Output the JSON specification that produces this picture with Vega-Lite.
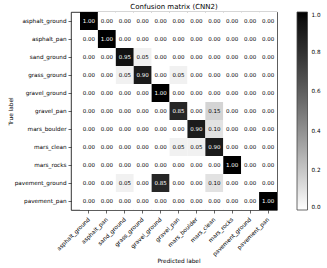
{
  "$schema": "https://vega.github.io/schema/vega-lite/v6.json",
  "autosize": {"type": "none"},
  "padding": {"left": 71, "top": 12, "right": 50, "bottom": 58},
  "width": 206,
  "height": 198,
  "background": "white",
  "config": {
    "font": "DejaVu Sans",
    "view": {"stroke": "#000", "strokeWidth": 0.8},
    "axis": {"domain": false, "grid": false, "tickColor": "#000", "tickWidth": 0.6, "tickSize": 3, "labelFontSize": 5.7, "labelColor": "#000", "labelPadding": 2, "titleFontSize": 5.8, "titleFontWeight": "normal", "titleColor": "#000"}
  },
  "title": {"text": "Confusion matrix (CNN2)", "fontSize": 7, "fontWeight": "normal", "color": "#000", "offset": 2},
  "data": {"values": [
    {"t":"asphalt_ground","p":"asphalt_ground","v":1.00},{"t":"asphalt_ground","p":"asphalt_pan","v":0},{"t":"asphalt_ground","p":"sand_ground","v":0},{"t":"asphalt_ground","p":"grass_ground","v":0},{"t":"asphalt_ground","p":"gravel_ground","v":0},{"t":"asphalt_ground","p":"gravel_pan","v":0},{"t":"asphalt_ground","p":"mars_boulder","v":0},{"t":"asphalt_ground","p":"mars_clean","v":0},{"t":"asphalt_ground","p":"mars_rocks","v":0},{"t":"asphalt_ground","p":"pavement_ground","v":0},{"t":"asphalt_ground","p":"pavement_pan","v":0},
    {"t":"asphalt_pan","p":"asphalt_ground","v":0},{"t":"asphalt_pan","p":"asphalt_pan","v":1.00},{"t":"asphalt_pan","p":"sand_ground","v":0},{"t":"asphalt_pan","p":"grass_ground","v":0},{"t":"asphalt_pan","p":"gravel_ground","v":0},{"t":"asphalt_pan","p":"gravel_pan","v":0},{"t":"asphalt_pan","p":"mars_boulder","v":0},{"t":"asphalt_pan","p":"mars_clean","v":0},{"t":"asphalt_pan","p":"mars_rocks","v":0},{"t":"asphalt_pan","p":"pavement_ground","v":0},{"t":"asphalt_pan","p":"pavement_pan","v":0},
    {"t":"sand_ground","p":"asphalt_ground","v":0},{"t":"sand_ground","p":"asphalt_pan","v":0},{"t":"sand_ground","p":"sand_ground","v":0.95},{"t":"sand_ground","p":"grass_ground","v":0.05},{"t":"sand_ground","p":"gravel_ground","v":0},{"t":"sand_ground","p":"gravel_pan","v":0},{"t":"sand_ground","p":"mars_boulder","v":0},{"t":"sand_ground","p":"mars_clean","v":0},{"t":"sand_ground","p":"mars_rocks","v":0},{"t":"sand_ground","p":"pavement_ground","v":0},{"t":"sand_ground","p":"pavement_pan","v":0},
    {"t":"grass_ground","p":"asphalt_ground","v":0},{"t":"grass_ground","p":"asphalt_pan","v":0},{"t":"grass_ground","p":"sand_ground","v":0.05},{"t":"grass_ground","p":"grass_ground","v":0.90},{"t":"grass_ground","p":"gravel_ground","v":0},{"t":"grass_ground","p":"gravel_pan","v":0.05},{"t":"grass_ground","p":"mars_boulder","v":0},{"t":"grass_ground","p":"mars_clean","v":0},{"t":"grass_ground","p":"mars_rocks","v":0},{"t":"grass_ground","p":"pavement_ground","v":0},{"t":"grass_ground","p":"pavement_pan","v":0},
    {"t":"gravel_ground","p":"asphalt_ground","v":0},{"t":"gravel_ground","p":"asphalt_pan","v":0},{"t":"gravel_ground","p":"sand_ground","v":0},{"t":"gravel_ground","p":"grass_ground","v":0},{"t":"gravel_ground","p":"gravel_ground","v":1.00},{"t":"gravel_ground","p":"gravel_pan","v":0},{"t":"gravel_ground","p":"mars_boulder","v":0},{"t":"gravel_ground","p":"mars_clean","v":0},{"t":"gravel_ground","p":"mars_rocks","v":0},{"t":"gravel_ground","p":"pavement_ground","v":0},{"t":"gravel_ground","p":"pavement_pan","v":0},
    {"t":"gravel_pan","p":"asphalt_ground","v":0},{"t":"gravel_pan","p":"asphalt_pan","v":0},{"t":"gravel_pan","p":"sand_ground","v":0},{"t":"gravel_pan","p":"grass_ground","v":0},{"t":"gravel_pan","p":"gravel_ground","v":0},{"t":"gravel_pan","p":"gravel_pan","v":0.85},{"t":"gravel_pan","p":"mars_boulder","v":0},{"t":"gravel_pan","p":"mars_clean","v":0.15},{"t":"gravel_pan","p":"mars_rocks","v":0},{"t":"gravel_pan","p":"pavement_ground","v":0},{"t":"gravel_pan","p":"pavement_pan","v":0},
    {"t":"mars_boulder","p":"asphalt_ground","v":0},{"t":"mars_boulder","p":"asphalt_pan","v":0},{"t":"mars_boulder","p":"sand_ground","v":0},{"t":"mars_boulder","p":"grass_ground","v":0},{"t":"mars_boulder","p":"gravel_ground","v":0},{"t":"mars_boulder","p":"gravel_pan","v":0},{"t":"mars_boulder","p":"mars_boulder","v":0.90},{"t":"mars_boulder","p":"mars_clean","v":0.10},{"t":"mars_boulder","p":"mars_rocks","v":0},{"t":"mars_boulder","p":"pavement_ground","v":0},{"t":"mars_boulder","p":"pavement_pan","v":0},
    {"t":"mars_clean","p":"asphalt_ground","v":0},{"t":"mars_clean","p":"asphalt_pan","v":0},{"t":"mars_clean","p":"sand_ground","v":0},{"t":"mars_clean","p":"grass_ground","v":0},{"t":"mars_clean","p":"gravel_ground","v":0},{"t":"mars_clean","p":"gravel_pan","v":0.05},{"t":"mars_clean","p":"mars_boulder","v":0.05},{"t":"mars_clean","p":"mars_clean","v":0.90},{"t":"mars_clean","p":"mars_rocks","v":0},{"t":"mars_clean","p":"pavement_ground","v":0},{"t":"mars_clean","p":"pavement_pan","v":0},
    {"t":"mars_rocks","p":"asphalt_ground","v":0},{"t":"mars_rocks","p":"asphalt_pan","v":0},{"t":"mars_rocks","p":"sand_ground","v":0},{"t":"mars_rocks","p":"grass_ground","v":0},{"t":"mars_rocks","p":"gravel_ground","v":0},{"t":"mars_rocks","p":"gravel_pan","v":0},{"t":"mars_rocks","p":"mars_boulder","v":0},{"t":"mars_rocks","p":"mars_clean","v":0},{"t":"mars_rocks","p":"mars_rocks","v":1.00},{"t":"mars_rocks","p":"pavement_ground","v":0},{"t":"mars_rocks","p":"pavement_pan","v":0},
    {"t":"pavement_ground","p":"asphalt_ground","v":0},{"t":"pavement_ground","p":"asphalt_pan","v":0},{"t":"pavement_ground","p":"sand_ground","v":0.05},{"t":"pavement_ground","p":"grass_ground","v":0},{"t":"pavement_ground","p":"gravel_ground","v":0.85},{"t":"pavement_ground","p":"gravel_pan","v":0},{"t":"pavement_ground","p":"mars_boulder","v":0},{"t":"pavement_ground","p":"mars_clean","v":0.10},{"t":"pavement_ground","p":"mars_rocks","v":0},{"t":"pavement_ground","p":"pavement_ground","v":0},{"t":"pavement_ground","p":"pavement_pan","v":0},
    {"t":"pavement_pan","p":"asphalt_ground","v":0},{"t":"pavement_pan","p":"asphalt_pan","v":0},{"t":"pavement_pan","p":"sand_ground","v":0},{"t":"pavement_pan","p":"grass_ground","v":0},{"t":"pavement_pan","p":"gravel_ground","v":0},{"t":"pavement_pan","p":"gravel_pan","v":0},{"t":"pavement_pan","p":"mars_boulder","v":0},{"t":"pavement_pan","p":"mars_clean","v":0},{"t":"pavement_pan","p":"mars_rocks","v":0},{"t":"pavement_pan","p":"pavement_ground","v":0},{"t":"pavement_pan","p":"pavement_pan","v":1.00}
  ]},
  "encoding": {
    "x": {"field": "p", "type": "nominal", "title": "Predicted label",
      "scale": {"domain": ["asphalt_ground","asphalt_pan","sand_ground","grass_ground","gravel_ground","gravel_pan","mars_boulder","mars_clean","mars_rocks","pavement_ground","pavement_pan"], "range": [9, 206], "paddingInner": 0, "paddingOuter": 0},
      "axis": {"labelAngle": 315, "labelAlign": "right", "labelBaseline": "middle", "labelPadding": 5, "titleY": 50, "titleBaseline": "middle"}},
    "y": {"field": "t", "type": "nominal", "title": "True label",
      "scale": {"domain": ["asphalt_ground","asphalt_pan","sand_ground","grass_ground","gravel_ground","gravel_pan","mars_boulder","mars_clean","mars_rocks","pavement_ground","pavement_pan"], "range": [0, 198], "paddingInner": 0, "paddingOuter": 0},
      "axis": {"titleX": -61, "titleBaseline": "middle"}}
  },
  "layer": [
    {"mark": {"type": "rect"},
     "encoding": {"color": {"field": "v", "type": "quantitative",
        "scale": {"range": ["#ffffff", "#000000"], "domain": [0, 1]},
        "legend": {"title": null, "orient": "none", "legendX": 226, "legendY": 0, "direction": "vertical", "gradientLength": 198, "gradientThickness": 10.5, "gradientStrokeColor": "#444", "gradientStrokeWidth": 0.8, "values": [0, 0.2, 0.4, 0.6, 0.8, 1.0], "format": ".1f", "labelFontSize": 5.7, "labelColor": "#000", "labelOffset": 4}}}},
    {"mark": {"type": "text", "fontSize": 5.5},
     "encoding": {"text": {"field": "v", "type": "quantitative", "format": ".2f"},
       "color": {"condition": {"test": "datum.v > 0.5", "value": "white"}, "value": "black"}}}
  ]
}
